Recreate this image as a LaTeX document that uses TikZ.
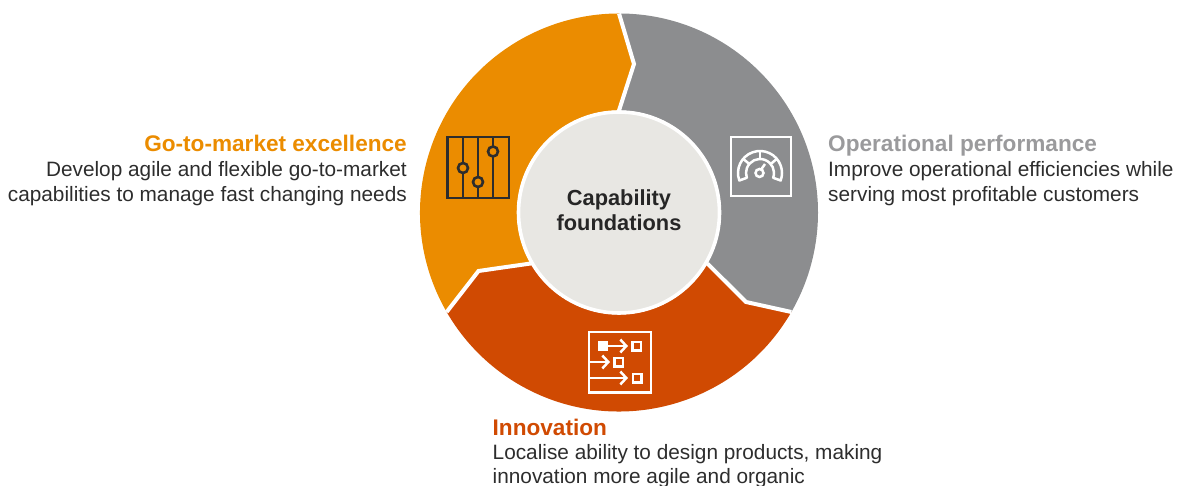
\documentclass[tikz,border=0pt]{standalone}
\usepackage{fontspec}
\setmainfont{Liberation Sans}
\usetikzlibrary{arrows.meta}
\definecolor{gomarket}{HTML}{EB8C00}
\definecolor{operational}{HTML}{8C8D8F}
\definecolor{innovation}{HTML}{D04A02}
\definecolor{foundation}{HTML}{E8E7E3}
\definecolor{inktext}{HTML}{2D2D2D}
\definecolor{greytitle}{HTML}{9A9A9C}
\newcommand{\blurbtitle}[2]{\textcolor{#1}{\fontsize{22.6}{25}\selectfont\bfseries #2}}
\tikzset{
  segment/.style={draw=white,line width=4pt,line join=miter},
  darkicon/.style={draw=inktext,line width=2.6pt},
  whiteicon/.style={draw=white,line width=2.5pt},
  blurb/.style={text=inktext,font=\fontsize{20.8}{25}\selectfont,inner sep=0pt},
  hub/.style={draw=white,line width=3.6pt,shape=circle,fill=foundation,minimum size=201pt},
  hubtext/.style={text=black!85,align=center,inner sep=0pt,font=\fontsize{21.8}{25}\selectfont\bfseries}
}
\begin{document}
\begin{tikzpicture}[x=1pt,y=1pt]
      \useasboundingbox (0,0) rectangle (1178,486);
      \coordinate (centre) at (619,273.5);
      \path (centre) +(90:199) coordinate (outerA);
      \path (centre) +(-30:199) coordinate (outerB);
      \path (centre) +(210:199) coordinate (outerC);
      \path (centre) +(90:102) coordinate (innerA);
      \path (centre) +(-30:102) coordinate (innerB);
      \path (centre) +(210:102) coordinate (innerC);
      \coordinate (kinkA) at (634,422);
      \coordinate (kinkB) at (746,184);
      \coordinate (kinkC) at (478.5,215);

      \fill[operational] (outerA) arc[start angle=90,end angle=-30,radius=199] -- (kinkB) -- (innerB)
        arc[start angle=-30,end angle=90,radius=102] -- (kinkA) -- cycle; %grey
      \fill[innovation] (outerB) arc[start angle=-30,end angle=-150,radius=199] -- (kinkC) -- (innerC)
        arc[start angle=210,end angle=330,radius=102] -- (kinkB) -- cycle; %red
      \fill[gomarket] (outerC) arc[start angle=210,end angle=90,radius=199] -- (kinkA) -- (innerA)
        arc[start angle=90,end angle=210,radius=102] -- (kinkC) -- cycle; %orange
      \draw[segment] (outerA) -- (kinkA) -- (innerA); %top
      \draw[segment] (outerB) -- (kinkB) -- (innerB); %right
      \draw[segment] (outerC) -- (kinkC) -- (innerC); %left

      \path (centre) node[hub] (hub) {};
      \path (619,275.5) node[hubtext] (hublabel) {Capability\\foundations};

      % sliders
      \draw[darkicon] (447.5,288) rectangle (509,349);
      \draw[darkicon] (463,288) -- (463,349);
      \draw[darkicon] (478,288) -- (478,349);
      \draw[darkicon] (493,288) -- (493,349);
      \draw[darkicon,fill=gomarket] (463,318) circle (5);
      \draw[darkicon,fill=gomarket] (478,304) circle (5);
      \draw[darkicon,fill=gomarket] (493,334.5) circle (5);

      % gauge
      \coordinate (gauge) at (760,313);
      \path (gauge) +(200:22) coordinate (gaugeA);
      \path (gauge) +(-20:22) coordinate (gaugeB);
      \path (gauge) +(-20:14) coordinate (gaugeC);
      \path (gauge) +(200:14) coordinate (gaugeD);
      \draw[whiteicon,line join=round] (gaugeA) arc[start angle=200,end angle=-20,radius=22] -- (gaugeC)
        arc[start angle=-20,end angle=200,radius=14] -- cycle;
      \draw[whiteicon] (gauge) +(90:14) -- +(90:22);
      \draw[whiteicon] (gauge) +(140:14) -- +(140:22);
      \draw[whiteicon] (gauge) +(40:14) -- +(40:22);
      \draw[whiteicon] (731,290) rectangle (791,349);
      \draw[whiteicon] (759.5,313) circle (4);
      \draw[whiteicon] (761.5,317) -- (765,322);

      % process
      \draw[whiteicon] (589,93.5) rectangle (651,154);
      \fill[white] (597.5,135) rectangle (608,145);
      \draw[whiteicon,-{Straight Barb[length=6pt,width=13pt]}] (606,140) -- (628,140);
      \draw[whiteicon,-{Straight Barb[length=6pt,width=13pt]}] (589,124) -- (610,124);
      \draw[whiteicon,-{Straight Barb[length=6pt,width=13pt]}] (589,108) -- (628,108);
      \draw[whiteicon] (632.5,135.5) rectangle (641,144);
      \draw[whiteicon] (614.5,119.5) rectangle (623,128);
      \draw[whiteicon] (633,103.5) rectangle (641.5,112);

      \path (407,351) node[blurb,align=right,anchor=north east] (gomarketlabel)
        {\blurbtitle{gomarket}{Go-to-market excellence}\\Develop agile and flexible go-to-market\\capabilities to manage fast changing needs};
      \path (828,351) node[blurb,align=left,anchor=north west] (operationallabel)
        {\blurbtitle{greytitle}{Operational performance}\\Improve operational efficiencies while\\serving most profitable customers};
      \path (492.5,67) node[blurb,align=left,anchor=north west] (innovationlabel)
        {\blurbtitle{innovation}{Innovation}\\[-1pt]Localise ability to design products, making\\[-1.5pt]innovation more agile and organic};
\end{tikzpicture}
\end{document}
